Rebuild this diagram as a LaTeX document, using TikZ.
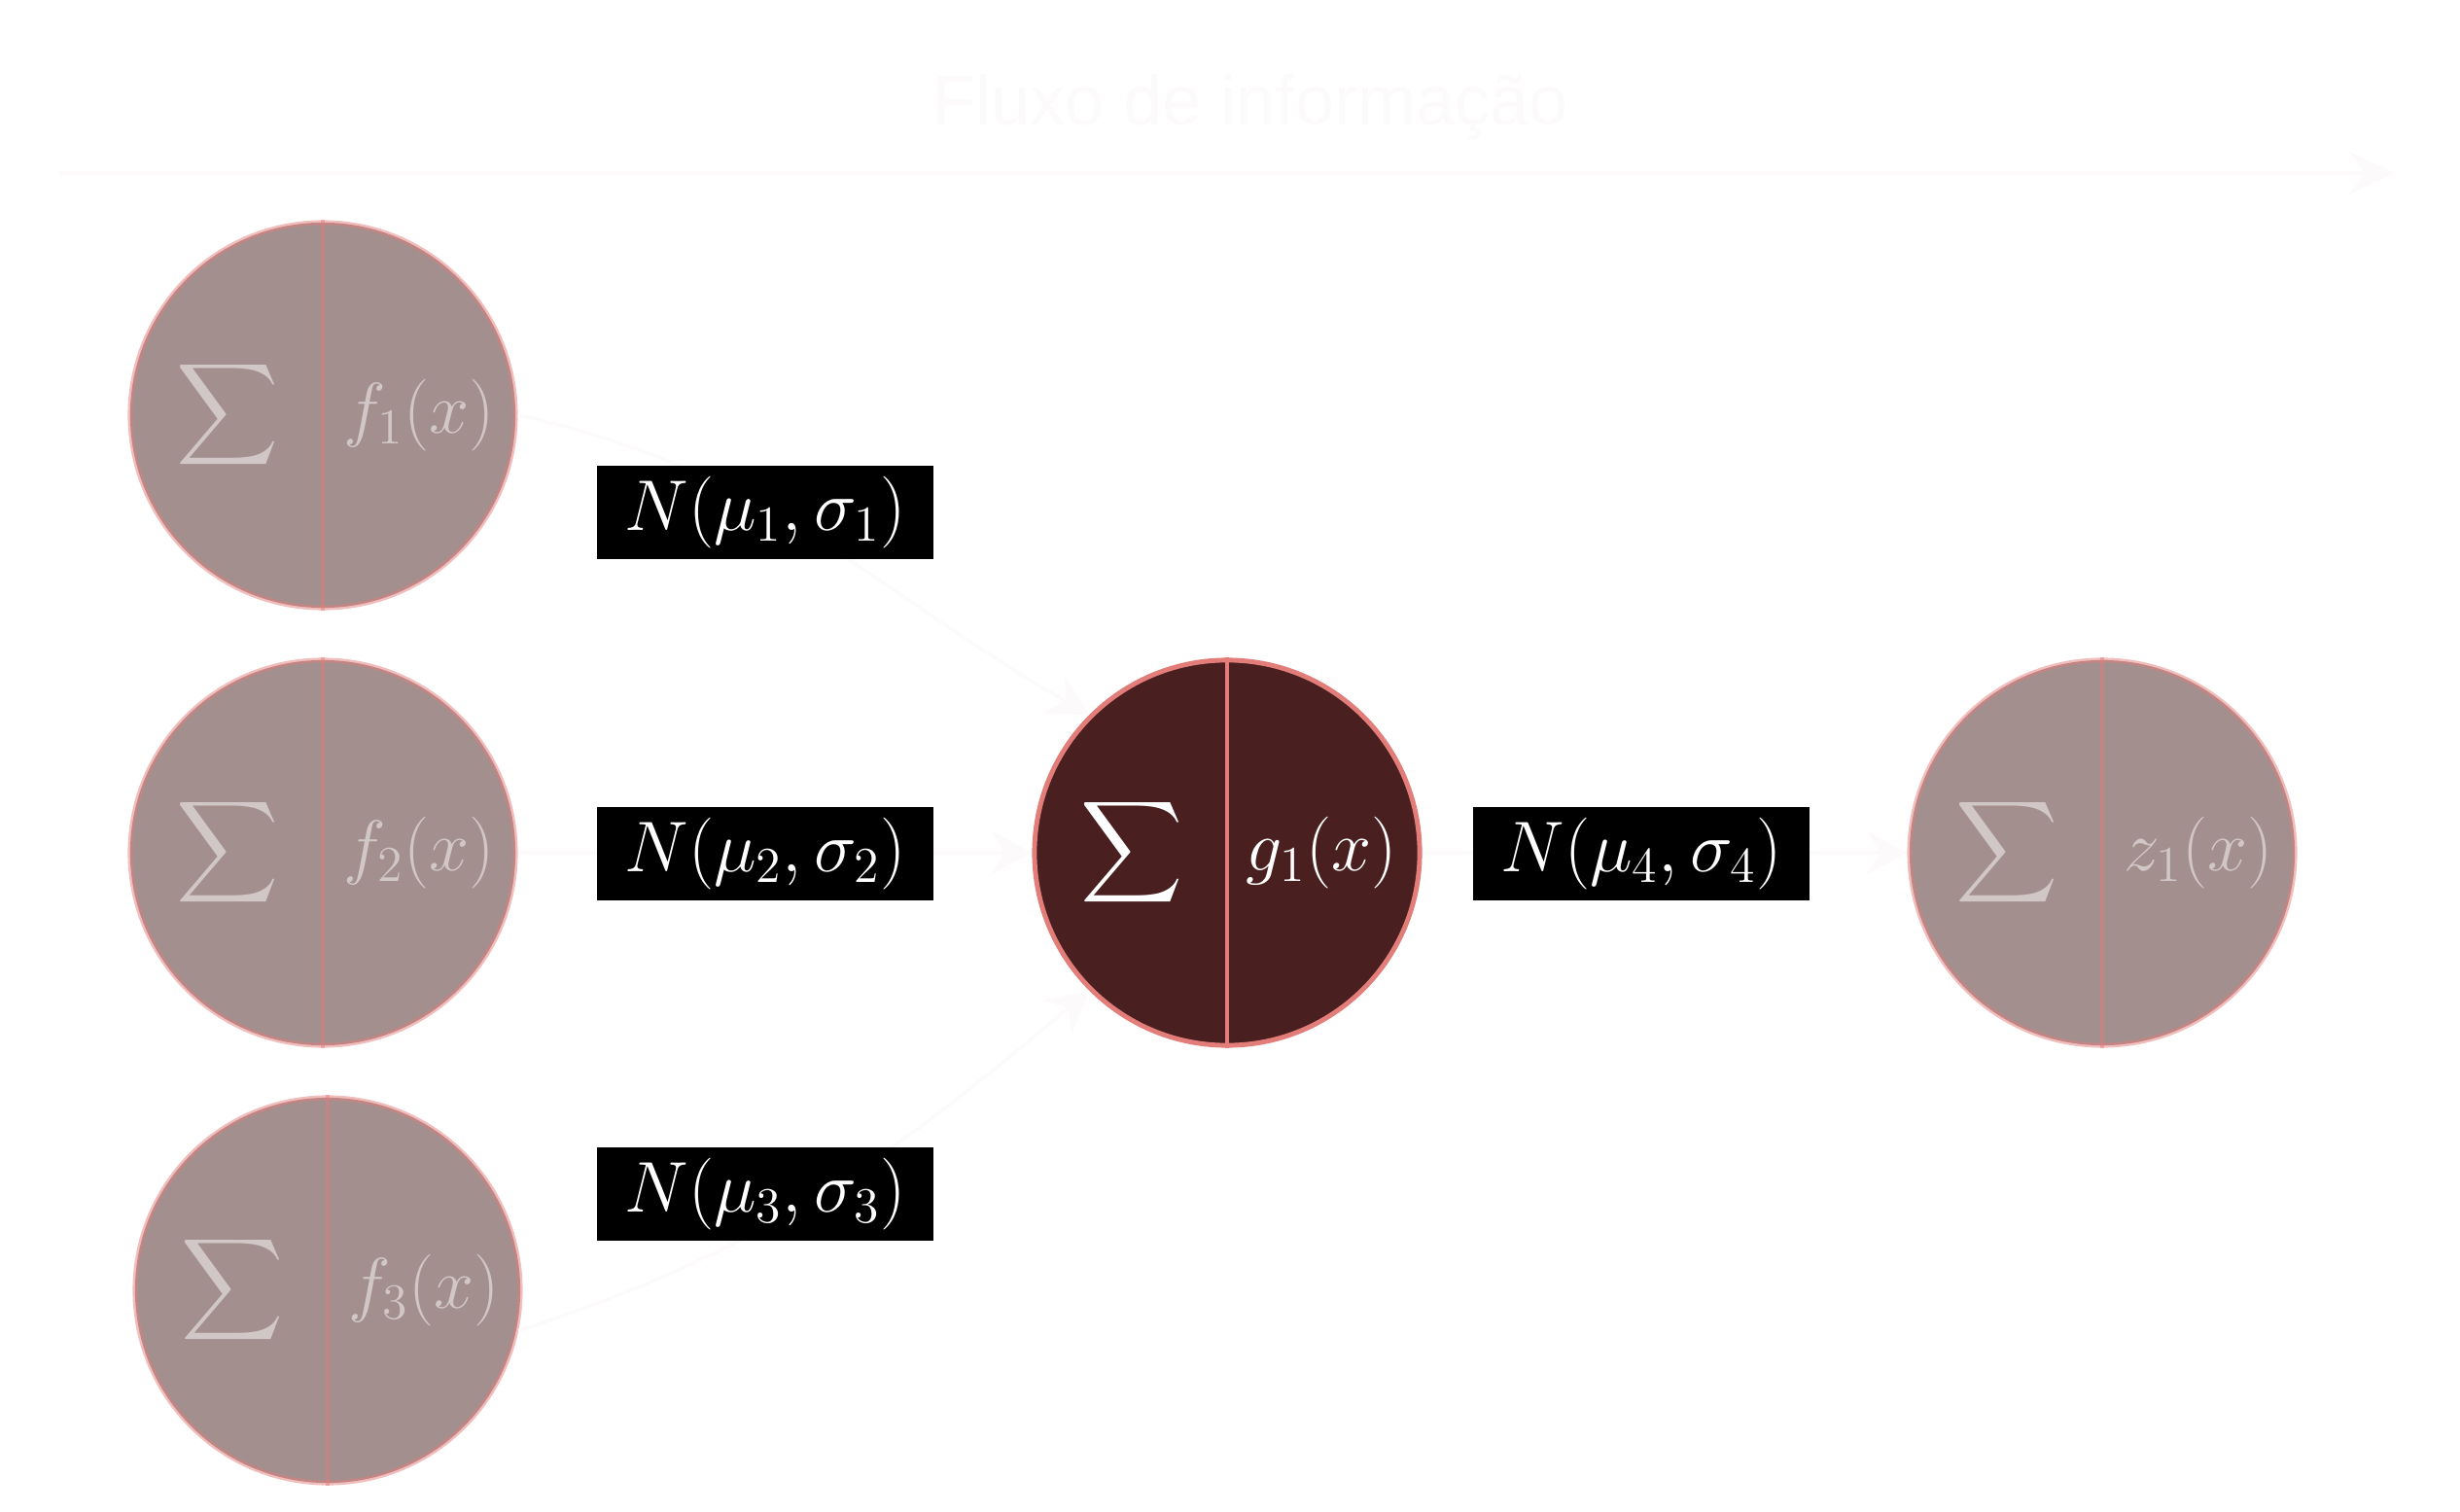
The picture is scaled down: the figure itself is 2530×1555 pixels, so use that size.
\RequirePackage{fix-cm}
\documentclass[tikz,border=0pt]{standalone}
\usepackage{amsmath}
\usepackage[no-math]{fontspec}
\newfontfamily\titlefont{Liberation Sans}
\usepackage{tikz}
\usetikzlibrary{arrows.meta,positioning}
\definecolor{nnmaroon}{HTML}{4A1F1F}
\definecolor{nnsalmon}{HTML}{E27D7A}
\definecolor{nnfaint}{HTML}{FDFAFC}

\begin{document}
\begin{tikzpicture}[
  x=0.01cm,y=0.01cm,
  every node/.style={font=\fontsize{19.5}{23}\selectfont},
  neuron/.style={circle,draw=nnsalmon,line width=1.4pt,fill=nnmaroon,
                 minimum size=3.96cm,inner sep=0pt},
  faded/.style={opacity=0.5},
  divider/.style={draw=nnsalmon,line width=1.4pt},
  sumsym/.style={text=white,inner sep=0pt},
  funtext/.style={text=white,inner sep=0pt,font=\fontsize{21}{25}\selectfont},
  dist/.style={fill=black,text=white,minimum width=3.45cm,minimum height=0.95cm,
               inner sep=0pt,font=\fontsize{21}{25}\selectfont},
  titletext/.style={font=\titlefont\fontsize{20.5}{24}\selectfont,text=nnfaint,inner sep=0pt},
  flow/.style={-{Stealth[length=0.42cm,width=0.45cm]},line width=1pt,draw=nnfaint},
  flowbig/.style={-{Stealth[length=0.47cm,width=0.44cm]},line width=1pt,draw=nnfaint}
]
\useasboundingbox (0,0) rectangle (2530,-1555);

%% ---- title and direction of flow ----
\node[titletext,anchor=base] (title) at (1286,-129) {Fluxo de informação};
\coordinate (flowstart) at (61,-178);
\coordinate (flowend) at (2463,-178);
\draw[flowbig] (flowstart) -- (flowend);

%% ---- input neurons ----
\node[neuron,faded] (f1) at (332,-427) {};
\node[neuron,faded] (f2) at (332,-877) {};
\node[neuron,faded] (f3) at (337,-1327) {};

%% ---- hidden neuron ----
\node[neuron] (g1) at (1262,-877) {};

%% ---- output neuron ----
\node[neuron,faded] (z1) at (2162,-877) {};

%% ---- split and sum ----
\foreach \n/\op in {f1/0.5,f2/0.5,f3/0.5,g1/1,z1/0.5}{
  \draw[divider,opacity=\op] (\n.north) -- (\n.south);
  \node[sumsym,opacity=\op] (\n-sum) at ([xshift=-0.98cm]\n.center) {$\displaystyle\sum$};
}

%% ---- activation functions ----
\node[funtext,faded] (f1-fun) at ([xshift=0.99cm]f1.center) {$f_1(x)$};
\node[funtext,faded] (f2-fun) at ([xshift=0.99cm]f2.center) {$f_2(x)$};
\node[funtext,faded] (f3-fun) at ([xshift=0.99cm]f3.center) {$f_3(x)$};
\node[funtext] (g1-fun) at ([xshift=0.97cm]g1.center) {$g_1(x)$};
\node[funtext,faded] (z1-fun) at ([xshift=0.99cm]z1.center) {$z_1(x)$};

%% ---- connections ----
\draw[flow] (f1.east) to[out=-12,in=150] (g1.135);
\draw[flow] (f2) -- (g1);
\draw[flow] (f3.-12) to[out=18,in=-140] (g1.225);
\draw[flow] (g1) -- (z1);

%% ---- weight distributions ----
\node[dist] (w1) at (787,-527) {$N(\mu_1,\sigma_1)$};
\node[dist] (w2) at (787,-878) {$N(\mu_2,\sigma_2)$};
\node[dist] (w3) at (787,-1228) {$N(\mu_3,\sigma_3)$};
\node[dist] (w4) at (1688,-878) {$N(\mu_4,\sigma_4)$};

\end{tikzpicture}
\end{document}
